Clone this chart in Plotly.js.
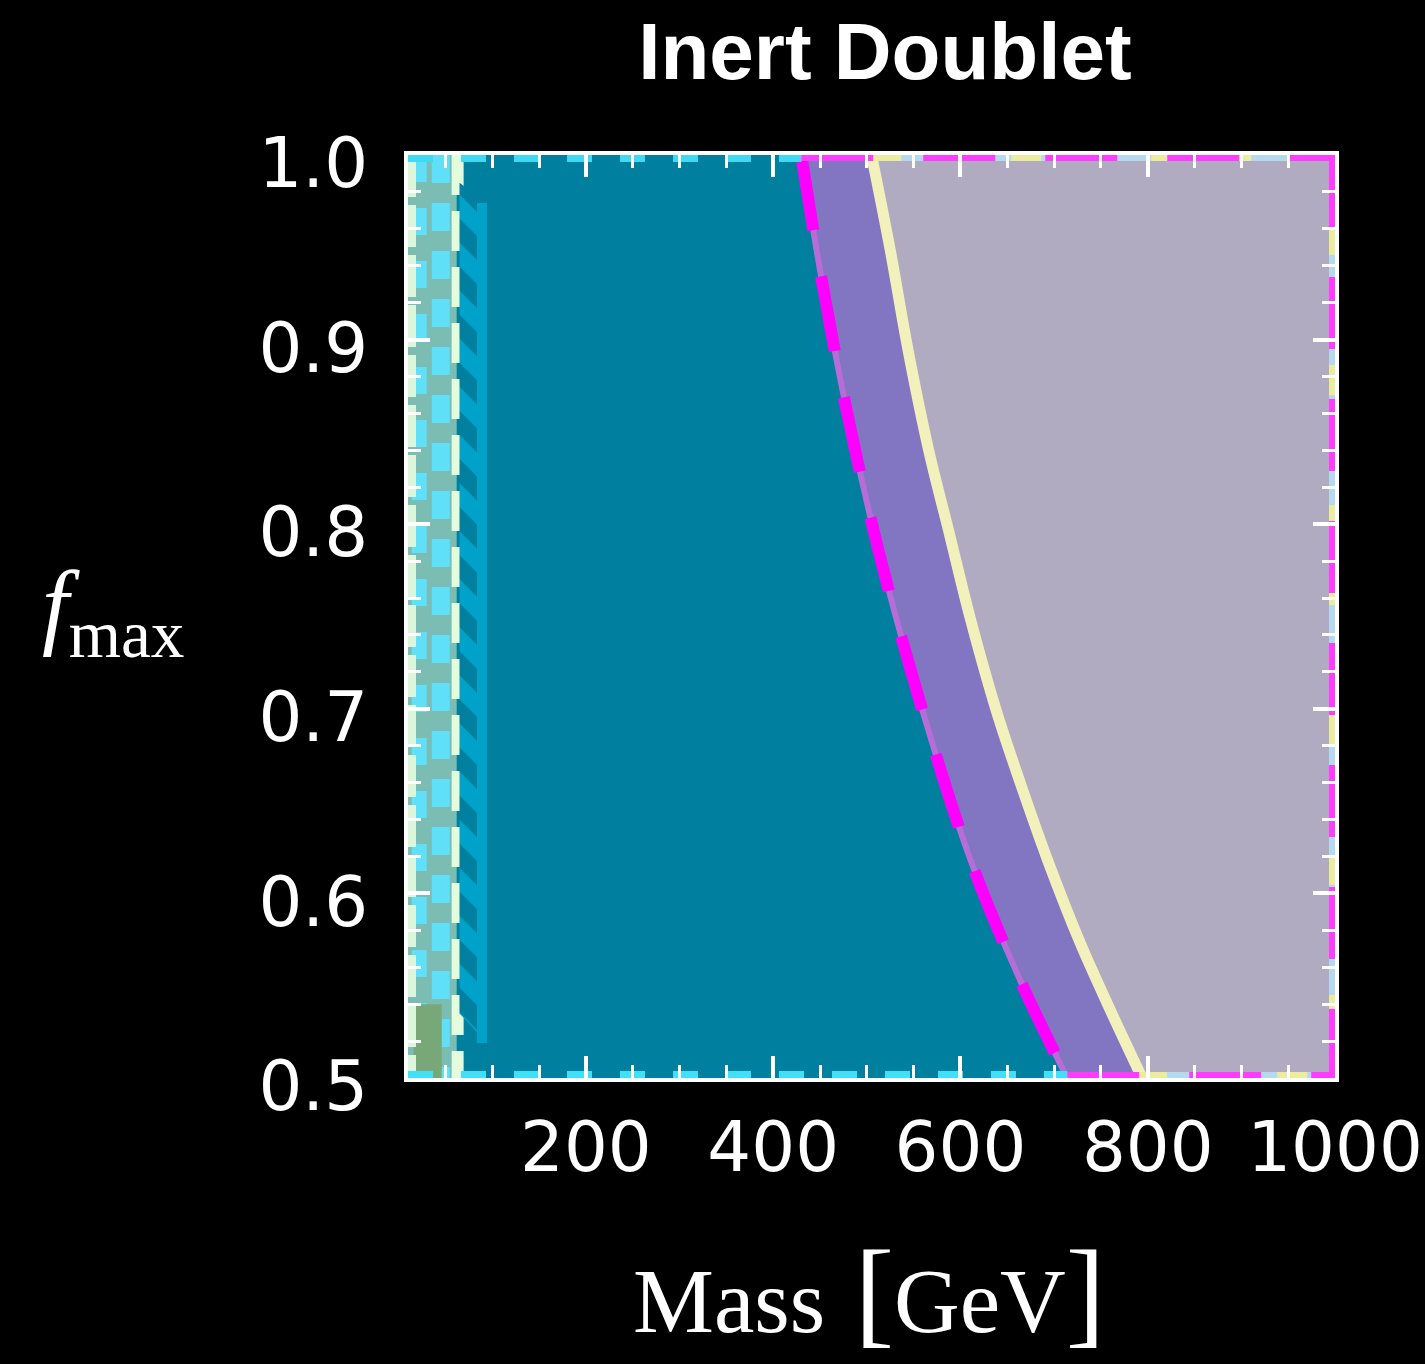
<!DOCTYPE html>
<html><head><meta charset="utf-8">
<script src="https://cdn.plot.ly/plotly-3.0.1.min.js"></script>
<style>html,body{margin:0;padding:0;background:#000;} #chart{width:1425px;height:1364px;}</style>
</head><body><div id="chart"></div>
<script>
// ---- axes ----
const massRange = [10, 1000];
const fRange = [0.5, 1.0];
const massTickStep = 200;
const fTickStep = 0.1;

// ---- magenta dashed exclusion boundary ----
const boundaryF = [1.0, 0.9377, 0.8727, 0.8077, 0.7535, 0.6813, 0.6163, 0.5549, 0.5];
const boundaryM = [430, 450, 474, 502, 529, 570, 612, 662, 714];

// ---- cream solid line ----
const creamF = [1.0, 0.9485, 0.8944, 0.8402, 0.7952, 0.7499, 0.6994, 0.6597, 0.6181, 0.5730, 0.5368, 0.5];
const creamM = [505, 525, 544, 566, 588, 610, 638, 664, 693, 728, 760, 794];

// ---- low-mass strip ----
const stripM = [10, 62];
const stripCyanM = [22, 45];
const paleLineM = 63;
const greenM = [16, 46];
const greenF = [0.5, 0.54];
const hatchM = [65, 94];
const hatchTopF = [0.985, 0.974];
const hatchBottomF = [0.535, 0.519];
const hatchBarM = 89;

const TEAL = '#007f9e', PURPLE = '#8276c2', GREY = '#b1abc1';
const xLo = massRange[0], xHi = massRange[1], yLo = fRange[0], yHi = fRange[1];

function poly(xs, ys, color, extra) {
  return Object.assign({x: xs, y: ys, mode: 'lines', fill: 'toself', fillcolor: color,
    line: {width: 0, color: color}, hoverinfo: 'skip', showlegend: false}, extra || {});
}
function line(xs, ys, color, width, dash, shape) {
  return {x: xs, y: ys, mode: 'lines', line: {color: color, width: width, dash: dash || 'solid', shape: shape || 'linear'},
    hoverinfo: 'skip', showlegend: false};
}

const traces = [];
// teal region (left of boundary)
traces.push(poly([xLo].concat(boundaryM, [xLo]), [yHi].concat(boundaryF, [yLo]), TEAL));
// purple region (right of boundary)
traces.push(poly(boundaryM.concat([xHi, xHi]), boundaryF.concat([yLo, yHi]), PURPLE));
// grey region (right of cream line)
traces.push(poly(creamM.concat([xHi, xHi]), creamF.concat([yLo, yHi]), GREY));
// low-mass strip background
traces.push(poly([stripM[0], stripM[1], stripM[1], stripM[0]], [yLo, yLo, yHi, yHi], '#7bbcb3'));
// cyan dashes in the strip
traces.push(line([stripCyanM[0], stripCyanM[0]], [yHi, yLo], '#5fdff8', 15, '27px,26px'));
traces.push(line([stripCyanM[1], stripCyanM[1]], [yHi, yLo], '#5fdff8', 18, '28px,20px'));
// green patch bottom-left
traces.push(poly([greenM[0], greenM[1], greenM[1], greenM[0]], [greenF[0], greenF[0], greenF[1], greenF[1]], '#78a878'));
// pale green dashed line
traces.push(line([paleLineM, paleLineM], [yHi, yLo], '#e2fcdc', 12, '40px,16px'));
// left edge pale line
traces.push(line([xLo, xLo], [yHi, yLo], '#dcf6dc', 16, '42px,8px'));
// hatched band
traces.push({x: [hatchM[0], hatchM[1], hatchM[1], hatchM[0]],
  y: [hatchTopF[0], hatchTopF[1], hatchBottomF[1], hatchBottomF[0]],
  mode: 'lines', fill: 'toself', fillcolor: TEAL, line: {width: 0},
  fillpattern: {shape: '\\', bgcolor: TEAL, fgcolor: '#00a2c9', size: 34, solidity: 0.5},
  hoverinfo: 'skip', showlegend: false});
traces.push(line([hatchBarM, hatchBarM], [hatchTopF[1], hatchBottomF[1]], '#00a2c9', 10));
// boundary: faint underline + magenta dashes
traces.push(line(boundaryM, boundaryF, '#b86cd8', 6, 'solid', 'spline'));
traces.push(line(boundaryM, boundaryF, '#ff00ff', 12, '76px,47px', 'spline'));
// cream line
traces.push(line(creamM, creamF, '#f3f1bb', 11, 'solid', 'spline'));
// frame-edge contour remnants
const bTop = boundaryM[0], bBot = boundaryM[boundaryM.length - 1];
traces.push(line([xLo, bTop], [yHi, yHi], '#3fd9f2', 14, '25px,28px'));
traces.push(line([xLo, bBot], [yLo, yLo], '#3fe0f8', 14, '25px,28px'));
[[[bTop, xHi], [yHi, yHi]], [[xHi, xHi], [yHi, yLo]], [[bBot, xHi], [yLo, yLo]]].forEach(function (s) {
  traces.push(line(s[0], s[1], '#b5d9ef', 12));
  traces.push(line(s[0], s[1], '#ecec9e', 12, '30px,40px'));
  traces.push(line(s[0], s[1], '#ff3dff', 12, '72px,50px'));
});

const tickFont = {family: 'DejaVu Sans, Liberation Sans, sans-serif', size: 69, color: 'white'};
const axisCommon = {
  showgrid: false, zeroline: false, showline: true, linecolor: 'white', linewidth: 4,
  mirror: 'allticks', ticks: 'inside', ticklen: 22, tickwidth: 4, tickcolor: 'white',
  tickfont: tickFont, layer: 'above traces', fixedrange: true
};

const layout = {
  width: 1425, height: 1364,
  paper_bgcolor: '#000000', plot_bgcolor: TEAL,
  margin: {l: 408, r: 90, t: 155, b: 286},
  showlegend: false,
  title: {text: '<b>Inert Doublet</b>', font: {family: 'Liberation Sans, Arial, sans-serif', size: 80, color: 'white'},
    x: 0.621, xanchor: 'center', y: 0.9626, yanchor: 'middle'},
  xaxis: Object.assign({}, axisCommon, {range: massRange, autorange: false, tickmode: 'linear', tick0: 0, dtick: massTickStep,
    ticklabelstandoff: 6,
    minor: {dtick: 50, tick0: 0, ticks: 'inside', ticklen: 13, tickwidth: 3, tickcolor: 'white', showgrid: false}}),
  yaxis: Object.assign({}, axisCommon, {range: fRange, autorange: false, tickmode: 'linear', tick0: 0.5, dtick: fTickStep,
    tickformat: '.1f', ticklabelstandoff: 22, ticklabelshift: 8,
    minor: {dtick: 0.02, tick0: 0.5, ticks: 'inside', ticklen: 13, tickwidth: 3, tickcolor: 'white', showgrid: false}}),
  annotations: [
    {text: '<i>f</i><sub>max</sub>', xref: 'paper', yref: 'paper', x: -0.318, y: 0.505,
      xanchor: 'center', yanchor: 'middle', showarrow: false,
      font: {family: 'Liberation Serif, Times New Roman, serif', size: 96, color: 'white'}},
    {text: 'Mass<span style="font-size:118px"> [</span>GeV<span style="font-size:118px">]</span>',
      xref: 'paper', yref: 'paper', x: 0.4973, y: -0.232, xanchor: 'center', yanchor: 'middle', showarrow: false,
      font: {family: 'Liberation Serif, Times New Roman, serif', size: 91, color: 'white'}}
  ]
};

Plotly.newPlot('chart', traces, layout, {staticPlot: true, displayModeBar: false});
</script>
</body></html>
